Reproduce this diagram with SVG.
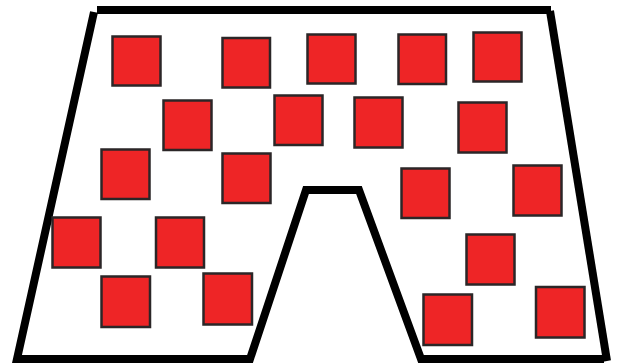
<svg xmlns="http://www.w3.org/2000/svg" width="618" height="364" viewBox="0 0 618 364">
<style>
.sq{fill:#ee2526;stroke:#2b2627;stroke-width:2.5}
.ol{fill:none;stroke:#000;stroke-width:8;stroke-linejoin:miter}
</style>
<rect width="618" height="364" fill="#fff"/>
<g id="outline">
<path class="ol" d="M97,10 L551,10"/>
<path class="ol" d="M550,11 L607,361"/>
<path class="ol" d="M94,12 L17,359 L250,359 L306,190 L359,190 L421,359 L604,359"/>
</g>
<g id="squares">
<rect class="sq" x="112.5" y="36.5" width="48" height="49"/>
<rect class="sq" x="222.5" y="38" width="47.5" height="49.5"/>
<rect class="sq" x="307.5" y="34.5" width="48" height="49"/>
<rect class="sq" x="398.5" y="34.5" width="47.5" height="49.5"/>
<rect class="sq" x="473.5" y="32.5" width="48" height="49"/>
<rect class="sq" x="163.5" y="100.5" width="48" height="49.5"/>
<rect class="sq" x="274.5" y="95.5" width="48" height="49.5"/>
<rect class="sq" x="354.5" y="97.5" width="48" height="50"/>
<rect class="sq" x="458.5" y="102.5" width="48" height="50"/>
<rect class="sq" x="101.5" y="149.5" width="48" height="49.5"/>
<rect class="sq" x="222.5" y="153.5" width="48" height="49.5"/>
<rect class="sq" x="401.5" y="168.5" width="48" height="49.5"/>
<rect class="sq" x="513.5" y="165.5" width="48" height="50"/>
<rect class="sq" x="52.5" y="217.5" width="48" height="50"/>
<rect class="sq" x="156" y="217.5" width="48" height="50"/>
<rect class="sq" x="466.5" y="234.5" width="48" height="50"/>
<rect class="sq" x="101.5" y="276.5" width="48.5" height="50.5"/>
<rect class="sq" x="203.5" y="273.5" width="48.5" height="51"/>
<rect class="sq" x="423.5" y="294.5" width="48.5" height="50.5"/>
<rect class="sq" x="536" y="287" width="48.5" height="50.5"/>
</g>
</svg>
